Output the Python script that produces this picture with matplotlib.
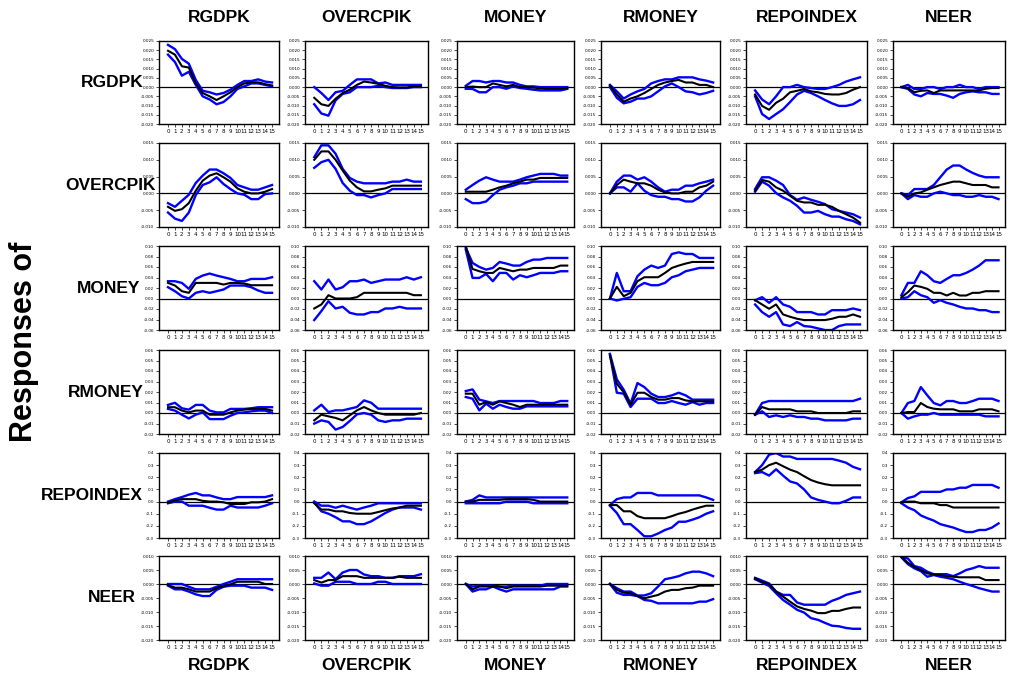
import matplotlib

matplotlib.use("Agg")
import matplotlib.pyplot as plt
from matplotlib import font_manager
import numpy as np

VARS = ["RGDPK", "OVERCPIK", "MONEY", "RMONEY", "REPOINDEX", "NEER"]
HORIZON = list(range(16))

# responses of RGDPK (one list per impulse, in VARS order)
RGDPK_MID = [
    [0.0197, 0.0176, 0.0113, 0.0106, 0.0020, -0.0032, -0.0050, -0.0070, -0.0050, -0.0028, 0.0000, 0.0020, 0.0026, 0.0026, 0.0016, 0.0009],
    [-0.0058, -0.0093, -0.0102, -0.0063, -0.0032, -0.0014, 0.0012, 0.0030, 0.0025, 0.0018, 0.0007, 0.0000, -0.0002, -0.0002, 0.0004, 0.0004],
    [0.0000, 0.0003, 0.0000, 0.0000, 0.0020, 0.0012, 0.0004, 0.0012, 0.0000, 0.0000, -0.0002, -0.0007, -0.0009, -0.0009, -0.0009, -0.0005],
    [0.0007, -0.0040, -0.0079, -0.0062, -0.0050, -0.0032, -0.0010, 0.0012, 0.0025, 0.0033, 0.0039, 0.0025, 0.0025, 0.0012, 0.0012, 0.0000],
    [-0.0040, -0.0102, -0.0123, -0.0085, -0.0063, -0.0028, -0.0020, -0.0010, -0.0023, -0.0028, -0.0037, -0.0040, -0.0040, -0.0032, -0.0014, 0.0000],
    [0.0000, -0.0005, -0.0028, -0.0020, -0.0018, -0.0032, -0.0018, -0.0018, -0.0018, -0.0018, -0.0018, -0.0018, -0.0018, -0.0009, -0.0005, -0.0005],
]
RGDPK_UP = [
    [0.0229, 0.0206, 0.0153, 0.0127, 0.0039, -0.0020, -0.0028, -0.0040, -0.0032, -0.0014, 0.0012, 0.0033, 0.0033, 0.0042, 0.0030, 0.0025],
    [0.0000, -0.0032, -0.0070, -0.0028, -0.0020, 0.0012, 0.0042, 0.0042, 0.0042, 0.0020, 0.0025, 0.0012, 0.0012, 0.0012, 0.0012, 0.0012],
    [0.0007, 0.0033, 0.0033, 0.0025, 0.0033, 0.0033, 0.0025, 0.0025, 0.0012, 0.0004, 0.0004, 0.0000, 0.0000, 0.0000, 0.0000, 0.0000],
    [0.0012, -0.0023, -0.0062, -0.0040, -0.0023, -0.0010, 0.0020, 0.0033, 0.0042, 0.0042, 0.0053, 0.0053, 0.0053, 0.0042, 0.0035, 0.0025],
    [-0.0018, -0.0067, -0.0093, -0.0050, 0.0000, 0.0000, 0.0012, 0.0000, -0.0005, -0.0010, -0.0010, 0.0000, 0.0012, 0.0030, 0.0042, 0.0053],
    [0.0000, 0.0012, -0.0010, -0.0010, 0.0000, 0.0000, -0.0010, 0.0000, 0.0000, 0.0012, 0.0000, 0.0000, -0.0010, 0.0000, 0.0000, 0.0000],
]
RGDPK_LO = [
    [0.0176, 0.0136, 0.0062, 0.0083, 0.0012, -0.0050, -0.0067, -0.0093, -0.0081, -0.0050, -0.0010, 0.0004, 0.0020, 0.0020, 0.0012, 0.0004],
    [-0.0093, -0.0143, -0.0155, -0.0072, -0.0037, -0.0028, 0.0000, 0.0000, 0.0000, 0.0007, 0.0000, -0.0005, -0.0005, -0.0005, 0.0000, 0.0000],
    [-0.0009, -0.0010, -0.0028, -0.0028, 0.0000, 0.0000, -0.0009, 0.0004, -0.0005, -0.0009, -0.0014, -0.0018, -0.0018, -0.0018, -0.0018, -0.0010],
    [0.0000, -0.0058, -0.0088, -0.0079, -0.0062, -0.0062, -0.0050, -0.0023, 0.0004, 0.0020, 0.0000, -0.0023, -0.0028, -0.0040, -0.0032, -0.0020],
    [-0.0050, -0.0146, -0.0173, -0.0146, -0.0120, -0.0081, -0.0040, -0.0020, -0.0032, -0.0050, -0.0070, -0.0088, -0.0102, -0.0102, -0.0093, -0.0070],
    [0.0000, -0.0010, -0.0040, -0.0050, -0.0032, -0.0037, -0.0037, -0.0046, -0.0058, -0.0037, -0.0028, -0.0023, -0.0028, -0.0028, -0.0037, -0.0037],
]

OVERCPIK_MID = [
    [-0.0040, -0.0052, -0.0047, -0.0029, 0.0008, 0.0038, 0.0053, 0.0060, 0.0048, 0.0035, 0.0015, 0.0005, 0.0000, 0.0000, 0.0005, 0.0013],
    [0.0100, 0.0125, 0.0125, 0.0100, 0.0068, 0.0038, 0.0018, 0.0006, 0.0006, 0.0011, 0.0015, 0.0023, 0.0023, 0.0023, 0.0023, 0.0023],
    [0.0005, 0.0005, 0.0005, 0.0005, 0.0011, 0.0018, 0.0023, 0.0030, 0.0035, 0.0041, 0.0041, 0.0046, 0.0046, 0.0046, 0.0046, 0.0046],
    [0.0000, 0.0025, 0.0041, 0.0035, 0.0030, 0.0030, 0.0023, 0.0011, 0.0003, 0.0000, 0.0000, 0.0005, 0.0005, 0.0018, 0.0023, 0.0035],
    [0.0008, 0.0040, 0.0035, 0.0018, 0.0008, -0.0007, -0.0022, -0.0027, -0.0027, -0.0034, -0.0034, -0.0040, -0.0052, -0.0062, -0.0072, -0.0087],
    [0.0000, -0.0010, 0.0000, 0.0003, 0.0011, 0.0018, 0.0025, 0.0030, 0.0035, 0.0035, 0.0030, 0.0025, 0.0025, 0.0025, 0.0018, 0.0018],
]
OVERCPIK_UP = [
    [-0.0029, -0.0040, -0.0022, -0.0004, 0.0031, 0.0053, 0.0071, 0.0071, 0.0060, 0.0046, 0.0025, 0.0018, 0.0011, 0.0011, 0.0018, 0.0025],
    [0.0108, 0.0143, 0.0143, 0.0118, 0.0073, 0.0046, 0.0035, 0.0030, 0.0030, 0.0030, 0.0030, 0.0035, 0.0035, 0.0041, 0.0035, 0.0035],
    [0.0011, 0.0025, 0.0038, 0.0048, 0.0041, 0.0035, 0.0035, 0.0035, 0.0041, 0.0048, 0.0053, 0.0058, 0.0058, 0.0058, 0.0053, 0.0053],
    [0.0000, 0.0035, 0.0053, 0.0053, 0.0041, 0.0048, 0.0035, 0.0018, 0.0005, 0.0011, 0.0011, 0.0023, 0.0023, 0.0030, 0.0035, 0.0041],
    [0.0013, 0.0048, 0.0048, 0.0038, 0.0025, -0.0005, -0.0019, -0.0012, -0.0019, -0.0025, -0.0032, -0.0047, -0.0052, -0.0057, -0.0062, -0.0072],
    [0.0000, -0.0005, 0.0013, 0.0013, 0.0013, 0.0025, 0.0048, 0.0071, 0.0083, 0.0083, 0.0071, 0.0061, 0.0053, 0.0048, 0.0048, 0.0048],
]
OVERCPIK_LO = [
    [-0.0057, -0.0075, -0.0082, -0.0057, -0.0005, 0.0025, 0.0033, 0.0048, 0.0028, 0.0013, 0.0000, -0.0004, -0.0017, -0.0017, -0.0002, 0.0000],
    [0.0076, 0.0093, 0.0100, 0.0073, 0.0031, 0.0008, -0.0005, -0.0005, -0.0012, -0.0005, 0.0000, 0.0013, 0.0013, 0.0013, 0.0013, 0.0013],
    [-0.0017, -0.0029, -0.0029, -0.0024, -0.0005, 0.0011, 0.0018, 0.0023, 0.0030, 0.0030, 0.0035, 0.0035, 0.0035, 0.0035, 0.0035, 0.0035],
    [0.0000, 0.0018, 0.0018, 0.0005, 0.0030, 0.0008, -0.0005, -0.0010, -0.0010, -0.0017, -0.0017, -0.0024, -0.0024, -0.0012, 0.0008, 0.0023],
    [0.0005, 0.0035, 0.0023, 0.0001, -0.0012, -0.0022, -0.0037, -0.0057, -0.0057, -0.0052, -0.0062, -0.0069, -0.0069, -0.0077, -0.0082, -0.0092],
    [0.0000, -0.0017, -0.0005, -0.0010, -0.0010, 0.0000, 0.0005, 0.0000, -0.0005, -0.0005, -0.0010, -0.0010, -0.0005, -0.0010, -0.0010, -0.0017],
]

MONEY_MID = [
    [0.0297, 0.0247, 0.0139, 0.0108, 0.0297, 0.0297, 0.0297, 0.0297, 0.0266, 0.0297, 0.0297, 0.0285, 0.0253, 0.0253, 0.0253, 0.0253],
    [-0.0190, -0.0114, 0.0063, 0.0000, 0.0000, 0.0000, 0.0025, 0.0108, 0.0108, 0.0108, 0.0108, 0.0108, 0.0108, 0.0108, 0.0063, 0.0063],
    [0.0994, 0.0563, 0.0519, 0.0487, 0.0487, 0.0582, 0.0550, 0.0519, 0.0550, 0.0550, 0.0582, 0.0582, 0.0582, 0.0582, 0.0627, 0.0627],
    [0.0000, 0.0222, 0.0044, 0.0108, 0.0329, 0.0405, 0.0405, 0.0405, 0.0487, 0.0582, 0.0627, 0.0665, 0.0696, 0.0696, 0.0696, 0.0696],
    [-0.0032, -0.0114, -0.0196, -0.0114, -0.0304, -0.0348, -0.0386, -0.0411, -0.0411, -0.0411, -0.0411, -0.0386, -0.0348, -0.0348, -0.0304, -0.0348],
    [0.0025, 0.0120, 0.0247, 0.0222, 0.0184, 0.0108, 0.0108, 0.0057, 0.0108, 0.0057, 0.0057, 0.0108, 0.0108, 0.0139, 0.0139, 0.0139],
]
MONEY_UP = [
    [0.0329, 0.0329, 0.0297, 0.0184, 0.0373, 0.0437, 0.0475, 0.0437, 0.0405, 0.0373, 0.0329, 0.0329, 0.0373, 0.0373, 0.0373, 0.0405],
    [0.0329, 0.0171, 0.0361, 0.0171, 0.0215, 0.0329, 0.0329, 0.0361, 0.0297, 0.0329, 0.0361, 0.0361, 0.0361, 0.0405, 0.0361, 0.0405],
    [0.0962, 0.0677, 0.0601, 0.0550, 0.0582, 0.0696, 0.0665, 0.0627, 0.0627, 0.0696, 0.0741, 0.0741, 0.0772, 0.0772, 0.0772, 0.0772],
    [0.0000, 0.0487, 0.0139, 0.0139, 0.0424, 0.0550, 0.0627, 0.0582, 0.0627, 0.0848, 0.0880, 0.0848, 0.0848, 0.0772, 0.0772, 0.0772],
    [-0.0032, 0.0025, -0.0082, 0.0025, -0.0114, -0.0158, -0.0259, -0.0259, -0.0259, -0.0304, -0.0304, -0.0222, -0.0222, -0.0222, -0.0190, -0.0222],
    [0.0063, 0.0297, 0.0297, 0.0519, 0.0443, 0.0329, 0.0297, 0.0373, 0.0443, 0.0443, 0.0487, 0.0550, 0.0627, 0.0728, 0.0728, 0.0728],
]
MONEY_LO = [
    [0.0215, 0.0139, 0.0044, 0.0000, 0.0108, 0.0139, 0.0108, 0.0139, 0.0171, 0.0247, 0.0247, 0.0247, 0.0215, 0.0152, 0.0108, 0.0108],
    [-0.0411, -0.0240, -0.0051, -0.0190, -0.0158, -0.0272, -0.0304, -0.0304, -0.0259, -0.0259, -0.0190, -0.0190, -0.0158, -0.0190, -0.0190, -0.0190],
    [0.0930, 0.0392, 0.0392, 0.0468, 0.0329, 0.0487, 0.0487, 0.0361, 0.0443, 0.0405, 0.0443, 0.0487, 0.0487, 0.0487, 0.0519, 0.0519],
    [0.0000, -0.0038, -0.0006, 0.0025, 0.0222, 0.0297, 0.0253, 0.0253, 0.0297, 0.0405, 0.0443, 0.0519, 0.0550, 0.0582, 0.0582, 0.0582],
    [-0.0114, -0.0259, -0.0348, -0.0259, -0.0494, -0.0525, -0.0449, -0.0525, -0.0538, -0.0570, -0.0601, -0.0601, -0.0525, -0.0494, -0.0494, -0.0494],
    [0.0000, 0.0025, 0.0139, 0.0063, 0.0025, -0.0082, -0.0032, -0.0082, -0.0114, -0.0158, -0.0190, -0.0190, -0.0222, -0.0222, -0.0259, -0.0259],
]

RMONEY_MID = [
    [0.0055, 0.0055, 0.0023, 0.0006, 0.0023, 0.0023, -0.0016, -0.0016, -0.0016, 0.0006, 0.0023, 0.0032, 0.0039, 0.0039, 0.0039, 0.0023],
    [-0.0070, -0.0016, -0.0032, -0.0047, -0.0070, -0.0022, 0.0025, 0.0057, 0.0025, 0.0000, -0.0016, -0.0016, -0.0016, -0.0016, -0.0016, 0.0000],
    [0.0184, 0.0184, 0.0079, 0.0104, 0.0079, 0.0111, 0.0095, 0.0079, 0.0057, 0.0079, 0.0079, 0.0079, 0.0079, 0.0079, 0.0079, 0.0079],
    [0.0547, 0.0278, 0.0199, 0.0079, 0.0193, 0.0193, 0.0152, 0.0127, 0.0127, 0.0142, 0.0142, 0.0120, 0.0111, 0.0111, 0.0111, 0.0111],
    [-0.0016, 0.0057, 0.0035, 0.0035, 0.0035, 0.0035, 0.0016, 0.0016, 0.0016, 0.0000, 0.0000, 0.0000, 0.0000, 0.0000, 0.0016, 0.0016],
    [0.0000, 0.0009, 0.0009, 0.0095, 0.0057, 0.0041, 0.0035, 0.0035, 0.0035, 0.0016, 0.0016, 0.0016, 0.0035, 0.0035, 0.0035, 0.0016],
]
RMONEY_UP = [
    [0.0077, 0.0097, 0.0045, 0.0032, 0.0077, 0.0077, 0.0023, 0.0006, 0.0006, 0.0039, 0.0039, 0.0039, 0.0045, 0.0055, 0.0055, 0.0055],
    [0.0025, 0.0079, 0.0009, 0.0025, 0.0025, 0.0041, 0.0057, 0.0120, 0.0098, 0.0041, 0.0041, 0.0041, 0.0041, 0.0041, 0.0041, 0.0041],
    [0.0209, 0.0225, 0.0127, 0.0111, 0.0095, 0.0114, 0.0114, 0.0114, 0.0114, 0.0114, 0.0114, 0.0095, 0.0095, 0.0095, 0.0114, 0.0114],
    [0.0563, 0.0320, 0.0222, 0.0089, 0.0285, 0.0247, 0.0184, 0.0152, 0.0152, 0.0168, 0.0193, 0.0168, 0.0127, 0.0127, 0.0127, 0.0127],
    [-0.0016, 0.0095, 0.0114, 0.0114, 0.0114, 0.0114, 0.0114, 0.0114, 0.0114, 0.0114, 0.0114, 0.0114, 0.0114, 0.0114, 0.0114, 0.0136],
    [0.0000, 0.0095, 0.0114, 0.0247, 0.0168, 0.0095, 0.0073, 0.0114, 0.0114, 0.0095, 0.0095, 0.0114, 0.0136, 0.0136, 0.0136, 0.0114],
]
RMONEY_LO = [
    [0.0039, 0.0023, -0.0016, -0.0052, -0.0016, 0.0006, -0.0058, -0.0058, -0.0058, -0.0026, 0.0000, 0.0006, 0.0016, 0.0023, 0.0023, 0.0000],
    [-0.0101, -0.0070, -0.0085, -0.0158, -0.0133, -0.0076, -0.0013, 0.0000, -0.0016, -0.0070, -0.0085, -0.0070, -0.0070, -0.0054, -0.0054, -0.0054],
    [0.0152, 0.0136, 0.0025, 0.0089, 0.0041, 0.0079, 0.0057, 0.0041, 0.0041, 0.0063, 0.0063, 0.0063, 0.0063, 0.0063, 0.0063, 0.0063],
    [0.0557, 0.0193, 0.0184, 0.0057, 0.0136, 0.0136, 0.0136, 0.0095, 0.0095, 0.0114, 0.0095, 0.0079, 0.0104, 0.0079, 0.0095, 0.0095],
    [-0.0016, 0.0016, -0.0038, -0.0022, -0.0038, -0.0022, -0.0038, -0.0038, -0.0054, -0.0054, -0.0070, -0.0070, -0.0070, -0.0070, -0.0054, -0.0054],
    [0.0000, -0.0054, -0.0032, -0.0016, -0.0016, 0.0000, -0.0016, -0.0016, -0.0016, -0.0016, -0.0016, -0.0016, -0.0016, -0.0032, -0.0032, -0.0032],
]

REPOINDEX_MID = [
    [-0.009, 0.009, 0.020, 0.020, 0.020, 0.006, 0.000, 0.000, -0.006, -0.020, -0.020, -0.020, -0.006, -0.006, 0.000, 0.020],
    [-0.014, -0.066, -0.066, -0.080, -0.080, -0.094, -0.100, -0.100, -0.100, -0.086, -0.071, -0.057, -0.049, -0.034, -0.034, -0.034],
    [0.000, 0.000, 0.014, 0.014, 0.014, 0.014, 0.020, 0.020, 0.020, 0.020, 0.014, 0.000, 0.000, 0.000, 0.000, 0.000],
    [-0.029, -0.029, -0.080, -0.080, -0.120, -0.137, -0.137, -0.137, -0.137, -0.120, -0.100, -0.086, -0.066, -0.049, -0.034, -0.034],
    [0.243, 0.263, 0.300, 0.320, 0.291, 0.263, 0.243, 0.209, 0.177, 0.157, 0.143, 0.134, 0.134, 0.134, 0.134, 0.134],
    [-0.006, 0.000, 0.000, -0.014, -0.014, -0.014, -0.029, -0.029, -0.049, -0.049, -0.049, -0.049, -0.049, -0.049, -0.049, -0.049],
]
REPOINDEX_UP = [
    [0.000, 0.020, 0.037, 0.057, 0.071, 0.051, 0.051, 0.034, 0.020, 0.020, 0.037, 0.037, 0.037, 0.037, 0.037, 0.051],
    [0.000, -0.034, -0.034, -0.051, -0.034, -0.051, -0.066, -0.049, -0.034, -0.014, -0.014, -0.014, -0.014, -0.014, -0.014, -0.014],
    [0.000, 0.014, 0.051, 0.034, 0.034, 0.034, 0.034, 0.034, 0.034, 0.034, 0.034, 0.034, 0.034, 0.034, 0.034, 0.034],
    [-0.029, 0.020, 0.034, 0.034, 0.071, 0.071, 0.071, 0.051, 0.051, 0.051, 0.051, 0.051, 0.051, 0.051, 0.034, 0.014],
    [0.243, 0.300, 0.386, 0.400, 0.371, 0.371, 0.351, 0.351, 0.351, 0.351, 0.351, 0.351, 0.337, 0.320, 0.286, 0.266],
    [-0.006, 0.029, 0.043, 0.080, 0.080, 0.080, 0.080, 0.100, 0.100, 0.114, 0.114, 0.137, 0.137, 0.137, 0.137, 0.114],
]
REPOINDEX_LO = [
    [-0.014, 0.000, 0.000, -0.034, -0.034, -0.034, -0.051, -0.066, -0.066, -0.034, -0.049, -0.049, -0.049, -0.049, -0.034, -0.014],
    [-0.006, -0.080, -0.100, -0.129, -0.163, -0.163, -0.186, -0.186, -0.163, -0.129, -0.094, -0.066, -0.049, -0.049, -0.049, -0.066],
    [-0.014, -0.014, -0.014, -0.014, -0.014, -0.014, 0.000, 0.000, 0.000, 0.000, -0.014, -0.014, -0.014, -0.014, -0.014, -0.014],
    [-0.034, -0.094, -0.186, -0.186, -0.234, -0.286, -0.286, -0.263, -0.234, -0.214, -0.166, -0.166, -0.149, -0.129, -0.100, -0.080],
    [0.234, 0.243, 0.214, 0.266, 0.214, 0.166, 0.149, 0.100, 0.034, 0.014, 0.000, -0.014, -0.014, 0.006, 0.034, 0.034],
    [-0.014, -0.049, -0.071, -0.114, -0.137, -0.157, -0.186, -0.200, -0.214, -0.234, -0.251, -0.251, -0.234, -0.234, -0.214, -0.180],
]

NEER_MID = [
    [-0.0004, -0.0013, -0.0013, -0.0019, -0.0027, -0.0027, -0.0027, -0.0015, -0.0007, -0.0001, 0.0008, 0.0008, 0.0008, 0.0008, 0.0000, 0.0000],
    [0.0014, 0.0005, 0.0014, 0.0014, 0.0028, 0.0028, 0.0028, 0.0022, 0.0022, 0.0022, 0.0022, 0.0022, 0.0026, 0.0022, 0.0022, 0.0022],
    [0.0000, -0.0019, -0.0009, -0.0009, -0.0009, -0.0009, -0.0015, -0.0009, -0.0009, -0.0009, -0.0009, -0.0009, -0.0006, -0.0006, -0.0006, -0.0006],
    [0.0000, -0.0021, -0.0031, -0.0033, -0.0043, -0.0051, -0.0045, -0.0039, -0.0027, -0.0021, -0.0021, -0.0015, -0.0013, -0.0006, -0.0006, -0.0006],
    [0.0020, 0.0008, -0.0001, -0.0027, -0.0045, -0.0063, -0.0080, -0.0089, -0.0095, -0.0104, -0.0104, -0.0096, -0.0096, -0.0089, -0.0084, -0.0084],
    [0.0097, 0.0076, 0.0061, 0.0050, 0.0038, 0.0034, 0.0032, 0.0028, 0.0026, 0.0024, 0.0024, 0.0024, 0.0024, 0.0014, 0.0014, 0.0014],
]
NEER_UP = [
    [0.0000, 0.0000, 0.0000, -0.0010, -0.0019, -0.0019, -0.0019, -0.0010, 0.0000, 0.0008, 0.0017, 0.0017, 0.0017, 0.0017, 0.0017, 0.0017],
    [0.0022, 0.0022, 0.0041, 0.0017, 0.0041, 0.0050, 0.0050, 0.0034, 0.0028, 0.0028, 0.0022, 0.0022, 0.0028, 0.0028, 0.0028, 0.0035],
    [0.0000, -0.0009, -0.0006, -0.0006, -0.0006, -0.0009, -0.0009, -0.0006, -0.0006, -0.0006, -0.0006, -0.0006, 0.0000, 0.0000, 0.0000, 0.0000],
    [0.0000, -0.0015, -0.0027, -0.0027, -0.0041, -0.0041, -0.0033, -0.0009, 0.0017, 0.0022, 0.0028, 0.0038, 0.0044, 0.0044, 0.0038, 0.0028],
    [0.0022, 0.0012, 0.0002, -0.0027, -0.0039, -0.0039, -0.0066, -0.0074, -0.0074, -0.0074, -0.0074, -0.0060, -0.0051, -0.0039, -0.0033, -0.0027],
    [0.0097, 0.0091, 0.0064, 0.0058, 0.0044, 0.0035, 0.0035, 0.0035, 0.0028, 0.0038, 0.0050, 0.0056, 0.0064, 0.0058, 0.0058, 0.0058],
]
NEER_LO = [
    [-0.0006, -0.0019, -0.0019, -0.0027, -0.0037, -0.0043, -0.0043, -0.0021, -0.0010, -0.0006, -0.0006, -0.0006, -0.0013, -0.0013, -0.0013, -0.0021],
    [0.0002, -0.0006, -0.0006, 0.0008, 0.0008, 0.0008, 0.0000, 0.0000, 0.0000, 0.0008, 0.0008, 0.0000, 0.0000, 0.0000, 0.0000, 0.0000],
    [0.0000, -0.0027, -0.0019, -0.0019, -0.0009, -0.0019, -0.0027, -0.0019, -0.0019, -0.0019, -0.0019, -0.0019, -0.0019, -0.0019, -0.0009, -0.0009],
    [0.0000, -0.0031, -0.0039, -0.0039, -0.0043, -0.0057, -0.0060, -0.0069, -0.0069, -0.0069, -0.0069, -0.0069, -0.0069, -0.0063, -0.0063, -0.0054],
    [0.0017, 0.0005, -0.0007, -0.0033, -0.0057, -0.0074, -0.0092, -0.0102, -0.0122, -0.0128, -0.0139, -0.0149, -0.0151, -0.0157, -0.0160, -0.0160],
    [0.0095, 0.0071, 0.0056, 0.0046, 0.0026, 0.0032, 0.0026, 0.0022, 0.0017, 0.0008, 0.0000, -0.0007, -0.0015, -0.0021, -0.0027, -0.0027],
]

MID = [RGDPK_MID, OVERCPIK_MID, MONEY_MID, RMONEY_MID, REPOINDEX_MID, NEER_MID]
UP = [RGDPK_UP, OVERCPIK_UP, MONEY_UP, RMONEY_UP, REPOINDEX_UP, NEER_UP]
LO = [RGDPK_LO, OVERCPIK_LO, MONEY_LO, RMONEY_LO, REPOINDEX_LO, NEER_LO]

# y axis per response row: (min, max, step, label format)
YAXES = [
    (-0.020, 0.025, 0.005, "{:.3f}"),
    (-0.010, 0.015, 0.005, "{:.3f}"),
    (-0.06, 0.10, 0.02, "{:.2f}"),
    (-0.02, 0.06, 0.01, "{:.2f}"),
    (-0.3, 0.4, 0.1, "{:.1f}"),
    (-0.020, 0.010, 0.005, "{:.3f}"),
]

# layout in pixels of the 1009x682 canvas
W, H = 1009, 682
COL_L = [159, 305, 457, 601, 746, 893]
COL_R = [279, 428, 574, 720, 867, 1005]
ROW_T = [41, 143, 246, 350, 453, 556]
ROW_B = [124, 227, 330, 434, 538, 640]
ROW_LABEL_X = [112, 110, 109, 106, 92, 112]

BLUE = "#0000FF"

# the labels are set in a narrow bold face; fall back to a smaller regular one
_names = {f.name for f in font_manager.fontManager.ttflist}
if "Liberation Sans Narrow" in _names:
    TITLE_FONT = dict(family="Liberation Sans Narrow", weight="bold", fontsize=15)
else:
    TITLE_FONT = dict(family="Liberation Sans", weight="bold", fontsize=12.5)

fig = plt.figure(figsize=(W / 100, H / 100), dpi=100)

for r in range(6):
    ymin, ymax, step, fmt = YAXES[r]
    yt = np.round(np.arange(ymin, ymax + step / 2, step), 4)
    for c in range(6):
        ax = fig.add_axes([COL_L[c] / W, 1 - ROW_B[r] / H,
                           (COL_R[c] - COL_L[c]) / W, (ROW_B[r] - ROW_T[r]) / H])
        ax.axhline(0, color="black", lw=0.9, zorder=1)
        ax.plot(HORIZON, UP[r][c], color=BLUE, lw=1.7, zorder=2)
        ax.plot(HORIZON, LO[r][c], color=BLUE, lw=1.7, zorder=2)
        ax.plot(HORIZON, MID[r][c], color="black", lw=1.5, zorder=3)
        ax.set_xlim(-1.3, 16.0)
        ax.set_ylim(ymin, ymax)
        ax.set_xticks(HORIZON)
        ax.set_xticklabels([str(h) for h in HORIZON], fontsize=4)
        ax.set_yticks(yt)
        ax.set_yticklabels([fmt.format(v) for v in yt], fontsize=3)
        ax.tick_params(length=2, width=0.5, pad=1.5)
        for s in ax.spines.values():
            s.set_linewidth(1.0)

    fig.text(ROW_LABEL_X[r] / W, 1 - (ROW_T[r] + ROW_B[r]) / 2 / H, VARS[r],
             ha="center", va="center", **TITLE_FONT)

for c in range(6):
    xc = (COL_L[c] + COL_R[c]) / 2 / W
    fig.text(xc, 1 - 17 / H, VARS[c], ha="center", va="center", **TITLE_FONT)
    fig.text(xc, 1 - 665 / H, VARS[c], ha="center", va="center", **TITLE_FONT)

fig.text(24 / W, 1 - 342 / H, "Responses of", rotation=90, ha="center", va="center",
         family="Liberation Sans", weight="bold", fontsize=22)

fig.savefig("out.png", dpi=100)
